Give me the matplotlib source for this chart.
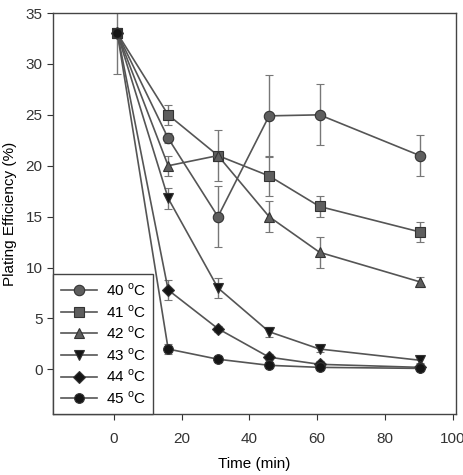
#!/usr/bin/env python3
"""
Plating efficiency vs time at several temperatures
"""

import matplotlib
matplotlib.use('Agg')
import matplotlib.pyplot as plt

plt.rcParams['font.family'] = ['Liberation Sans', 'DejaVu Sans']
plt.rcParams['mathtext.fontset'] = 'custom'
plt.rcParams['mathtext.rm'] = 'Liberation Sans'

# data
time = [1, 16, 30.7, 45.8, 60.7, 90.3]
temps = ['40', '41', '42', '43', '44', '45']
eff_40 = [33, 22.7, 15, 24.9, 25, 21]
err_40 = [4, 0.5, 3, 4, 3, 2]
eff_41 = [33, 25, 21, 19, 16, 13.5]
err_41 = [0, 1, 2.5, 2, 1, 1]
eff_42 = [33, 20, 21, 15, 11.5, 8.6]
err_42 = [0, 1, 0, 1.5, 1.5, 0.5]
eff_43 = [33, 16.8, 8, 3.7, 2, 0.9]
err_43 = [0, 1, 1, 0.5, 0.3, 0.3]
eff_44 = [33, 7.8, 4, 1.2, 0.5, 0.2]
err_44 = [0, 1, 0.3, 0.3, 0.3, 0.3]
eff_45 = [33, 2, 1, 0.4, 0.2, 0.1]
err_45 = [0, 0.5, 0.3, 0.2, 0.2, 0.2]

series = [eff_40, eff_41, eff_42, eff_43, eff_44, eff_45]
errors = [err_40, err_41, err_42, err_43, err_44, err_45]
markers = ['o', 's', '^', 'v', 'D', 'o']
colors = ['#5e5e5e', '#5e5e5e', '#5e5e5e', '#151515', '#151515', '#151515']
sizes = [7.5, 7, 7.5, 7.5, 6, 7]

fig = plt.figure(figsize=(4.63, 4.75), dpi=100)
ax = fig.add_axes([0.1145, 0.128, 0.8705, 0.8446])

line_color = '#555555'
for vals, errs, mk, col, ms, t in zip(series, errors, markers, colors,
                                        sizes, temps):
    ax.errorbar(time, vals, yerr=errs, color=line_color, ecolor='#777777',
                elinewidth=1, capsize=3, capthick=1, lw=1.2,
                marker=mk, ms=ms, mfc=col, mec='#333333', mew=0.8,
                label=t + r' $^{\rm o}$C')

ax.set_xlim(-18, 101)
ax.set_ylim(-4.4, 35)
ax.set_xticks([0, 20, 40, 60, 80, 100])
ax.set_yticks([0, 5, 10, 15, 20, 25, 30, 35])
ax.tick_params(labelsize=11, colors='#333333', length=4, width=0.8)
ax.tick_params(axis='x', pad=9)
for s in ax.spines.values():
    s.set_color('#444444')
    s.set_linewidth(1)

ax.set_xlabel('Time (min)', fontsize=11, labelpad=8)
ax.set_ylabel('Plating Efficiency (%)', fontsize=11, labelpad=6)

handles, labels = ax.get_legend_handles_labels()
handles = [h[0] for h in handles]
leg = ax.legend(handles, labels, loc='lower left', bbox_to_anchor=(0, 0),
                borderaxespad=0, fontsize=11, handlelength=2.4,
                labelspacing=0.32, fancybox=False, framealpha=1,
                edgecolor='#444444', borderpad=0.5, handletextpad=0.55)
leg.get_frame().set_linewidth(1)

fig.savefig('out.png', dpi=100)
